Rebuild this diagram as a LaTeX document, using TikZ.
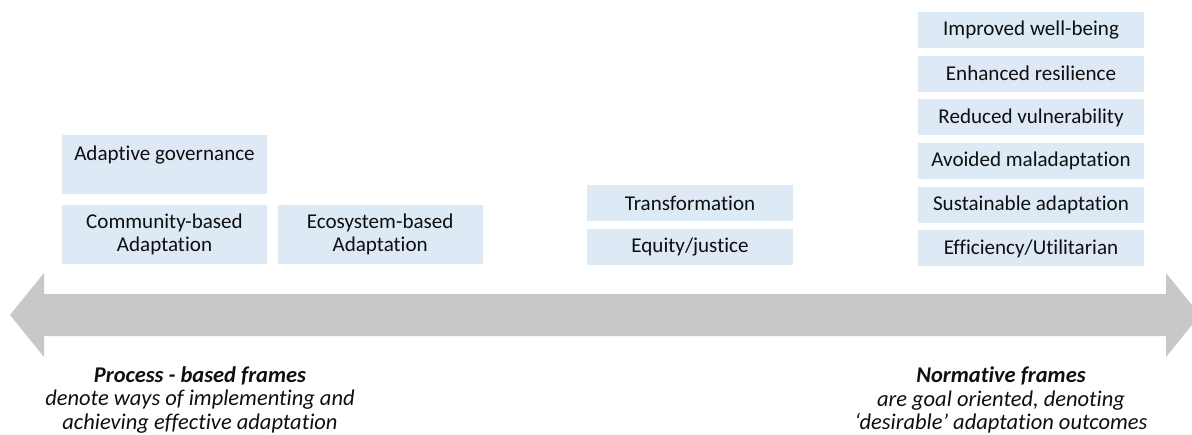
\documentclass[tikz,border=0pt]{standalone}
\usepackage{fontspec}
\setmainfont{Carlito}[Ligatures={TeX,NoCommon}]
\usetikzlibrary{positioning}
\definecolor{boxcol}{RGB}{221,234,246}
\definecolor{axiscol}{RGB}{200,200,200}
\definecolor{textcol}{RGB}{15,15,15}

\begin{document}
\begin{tikzpicture}[
			x=0.02cm, y=-0.02cm,
			node distance=0.14cm,
			frame/.style={
				fill=boxcol,
				text=textcol,
				align=center,
				inner sep=0pt,
				font=\fontsize{12}{13.2}\selectfont
			},
			process/.style={
				frame,
				minimum width=4.1cm,
				minimum height=1.18cm
			},
			middle/.style={
				frame,
				minimum width=4.12cm,
				minimum height=0.72cm
			},
			norm/.style={
				frame,
				minimum width=4.52cm,
				minimum height=0.72cm
			},
			caption/.style={
				align=center,
				text=textcol,
				font=\fontsize{12.8}{13.5}\selectfont\itshape
			}
			]
			\useasboundingbox (0,0) rectangle (1192,435);
			% Axis
			\fill[axiscol] (10,315) -- (44,273) -- (44,294) -- (1166,294) -- (1166,273)
				-- (1200,315) -- (1166,357) -- (1166,336) -- (44,336) -- (44,357) -- cycle;
			% Process-based frames
			\node[process] (governance) at (164.5,164.5) {Adaptive governance\\~};
			\node[process] (community) [below=0.2cm of governance] {Community-based\\Adaptation};
			\node[process] (ecosystem) [right=0.2cm of community] {Ecosystem-based\\Adaptation};
			% Middle frames
			\node[middle] (transformation) at (690,203) {Transformation};
			\node[middle] (equity) [below=of transformation] {Equity/justice};
			% Normative frames
			\node[norm] (wellbeing) at (1031,30) {Improved well-being};
			\node[norm] (resilience) [below=of wellbeing] {Enhanced resilience};
			\node[norm] (vulnerability) [below=of resilience] {Reduced vulnerability};
			\node[norm] (maladaptation) [below=of vulnerability] {Avoided maladaptation};
			\node[norm] (sustainable) [below=of maladaptation] {Sustainable adaptation};
			\node[norm] (efficiency) [below=of sustainable] {Efficiency/Utilitarian};
			% Captions
			\node[caption] (processlabel) at (200,400) {\textbf{Process - based frames}\\denote ways of implementing and\\achieving effective adaptation};
			\node[caption] (normlabel) at (1001,400) {\textbf{Normative frames}\\are goal oriented, denoting\\`desirable' adaptation outcomes};
		\end{tikzpicture}
\end{document}
